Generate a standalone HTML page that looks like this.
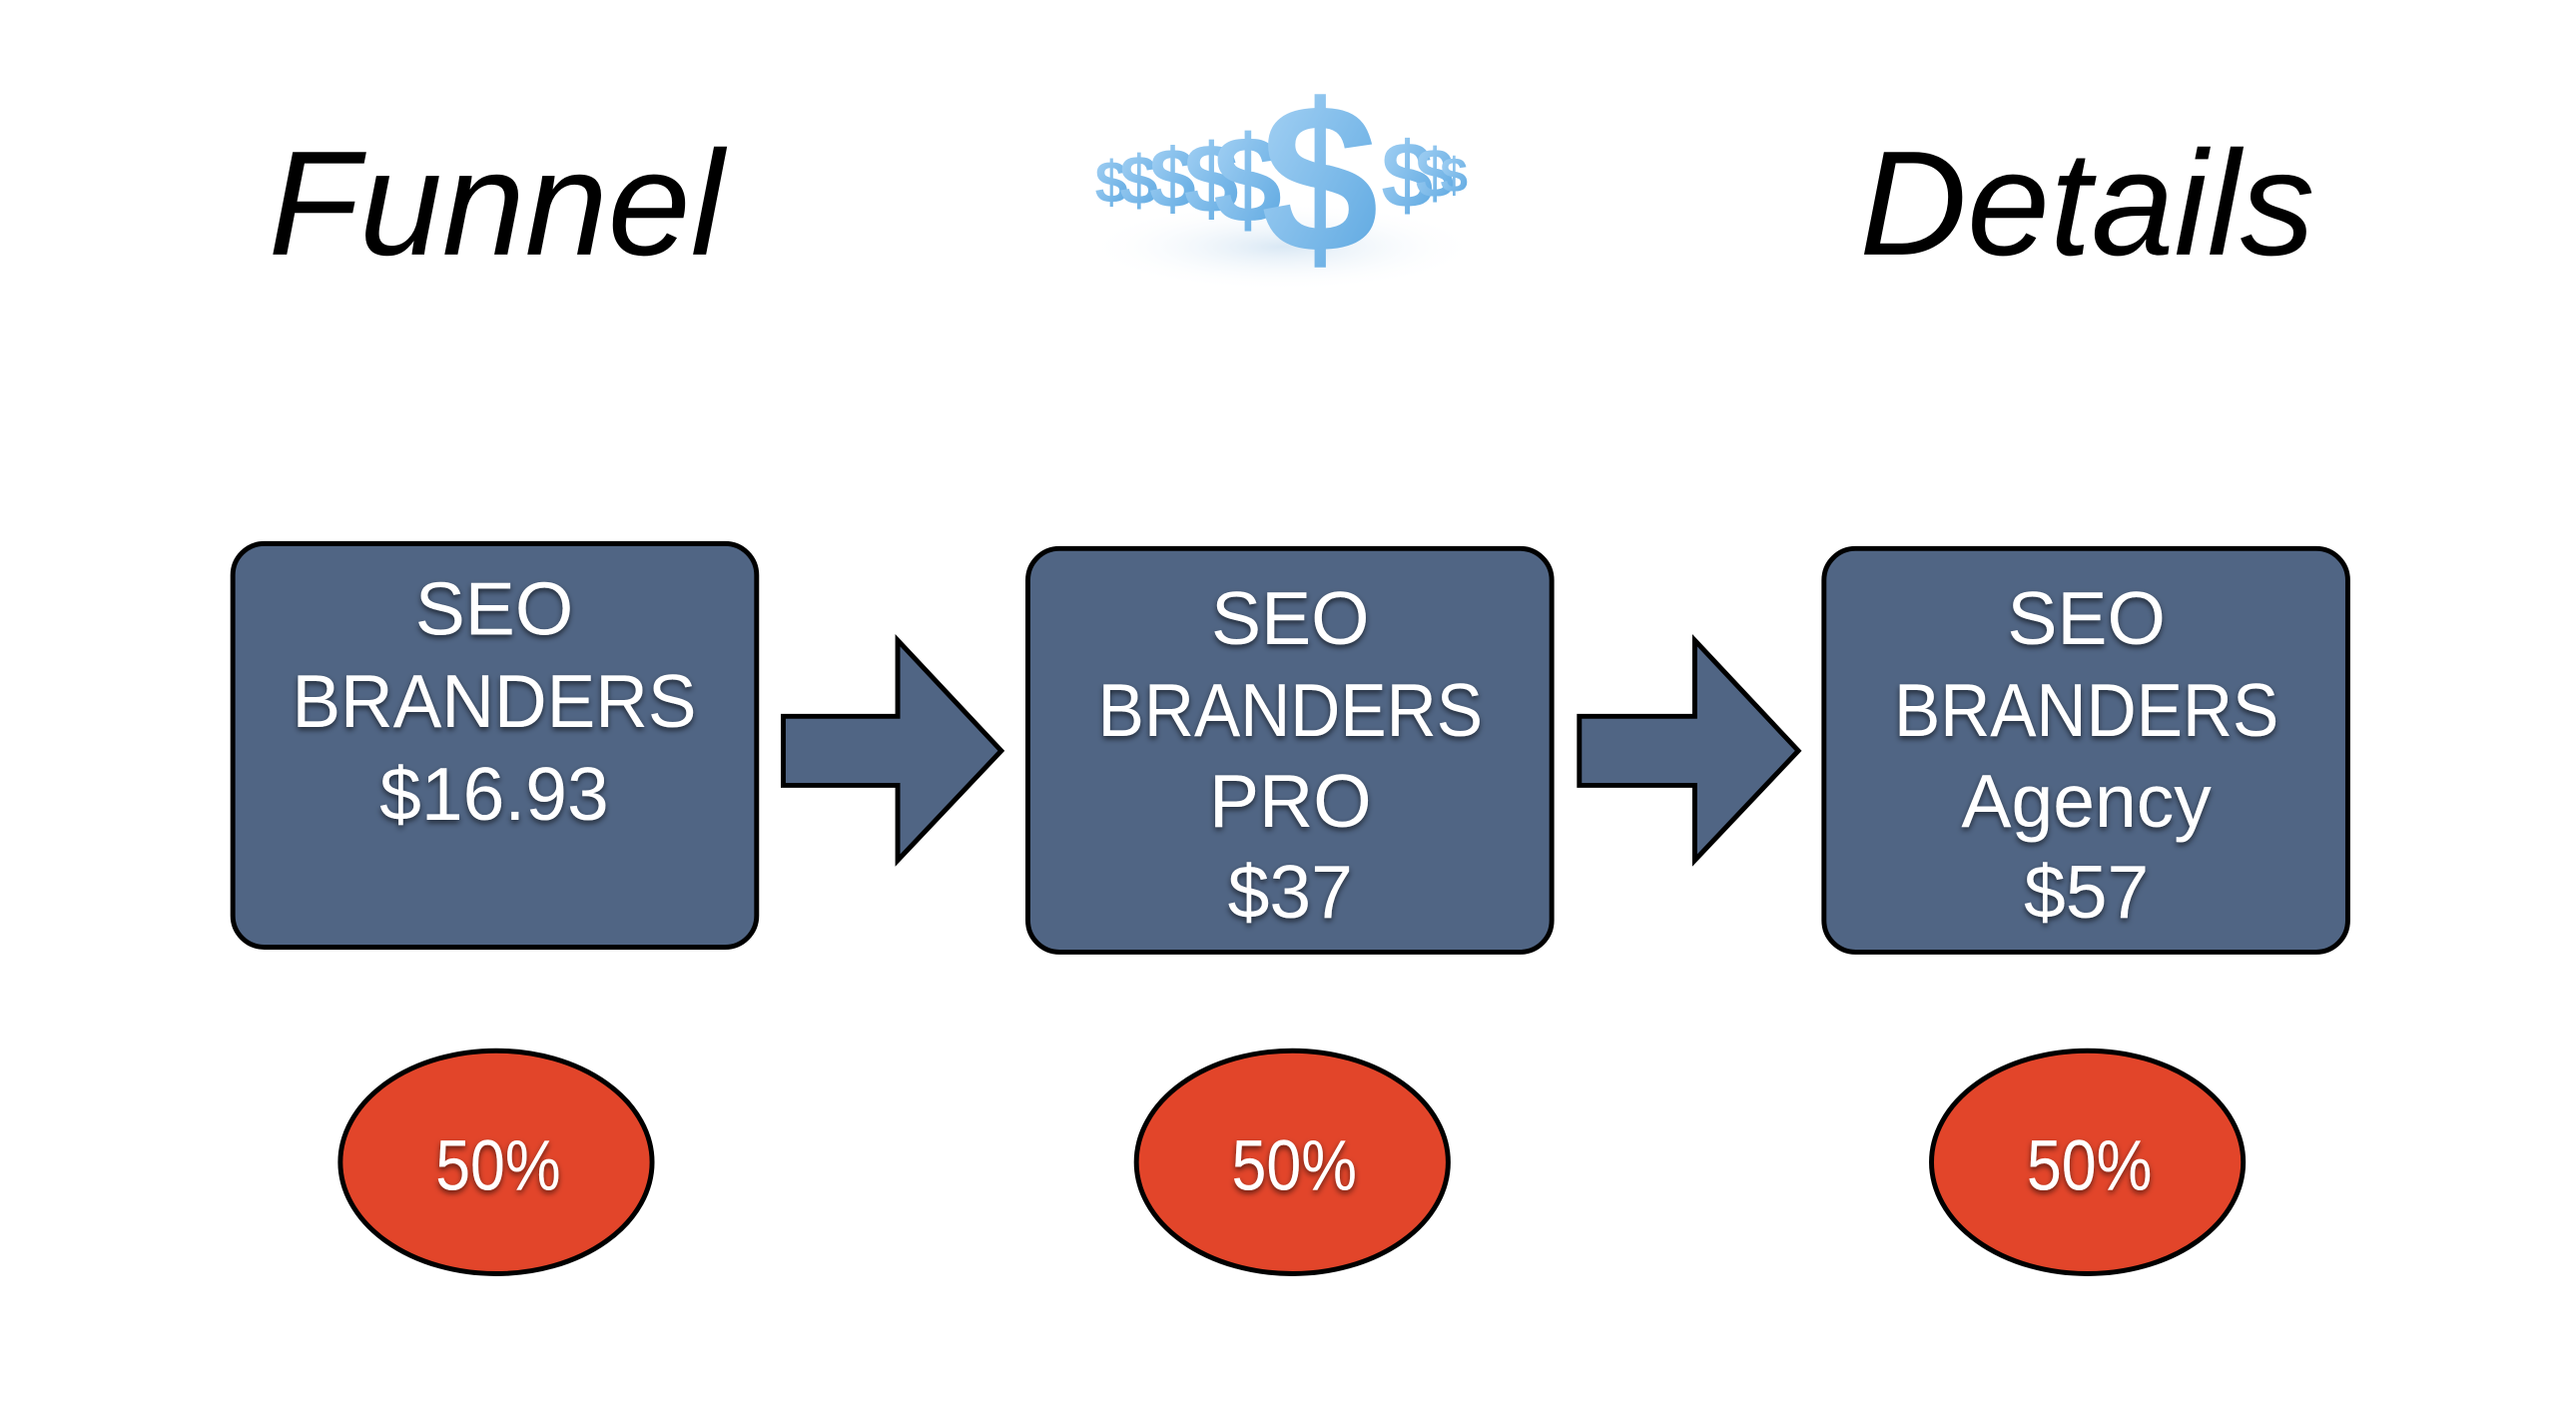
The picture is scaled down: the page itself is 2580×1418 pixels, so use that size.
<!DOCTYPE html>
<html><head><style>
html,body{margin:0;padding:0;background:#fff;}
svg{display:block}
</style></head><body>
<svg width="2580" height="1418" viewBox="0 0 2580 1418" xmlns="http://www.w3.org/2000/svg">
<defs>
<filter id="ts" x="-10%" y="-10%" width="120%" height="130%"><feDropShadow dx="0" dy="3" stdDeviation="3" flood-color="#000" flood-opacity="0.6"/></filter>
<linearGradient id="dg" x1="0" y1="0" x2="1" y2="1"><stop offset="0" stop-color="#a9d4f5"/><stop offset="1" stop-color="#5aa6e0"/></linearGradient>
<radialGradient id="sh" cx="0.5" cy="0.5" r="0.5"><stop offset="0" stop-color="#c9def0" stop-opacity="0.7"/><stop offset="1" stop-color="#fff" stop-opacity="0"/></radialGradient>
</defs>
<g transform="scale(0.988)">
<text x="272" y="258" font-family="Liberation Sans, sans-serif" font-style="italic" font-size="151" fill="#000">Funnel</text>
<text x="1885" y="258" font-family="Liberation Sans, sans-serif" font-style="italic" font-size="151" fill="#000">Details</text>

<ellipse cx="1300" cy="250" rx="200" ry="45" fill="url(#sh)"/>
<g font-family="Liberation Sans, sans-serif" font-weight="bold" fill="url(#dg)">
<text x="1110" y="205" font-size="60">$</text>
<text x="1135" y="207" font-size="70">$</text>
<text x="1165" y="210" font-size="85">$</text>
<text x="1200" y="215" font-size="100">$</text>
<text x="1230" y="225" font-size="125">$</text>
<text x="1400" y="210" font-size="95">$</text>
<text x="1435" y="200" font-size="70">$</text>
<text x="1460" y="195" font-size="50">$</text>
<text x="1278" y="255" font-size="215">$</text>
</g>

<g fill="#506584" stroke="#000" stroke-width="5">
<rect x="236" y="551" width="531" height="409" rx="32"/>
<rect x="1042" y="556" width="531" height="409" rx="32"/>
<rect x="1849" y="556" width="531" height="409" rx="32"/>
<polygon points="794,726 910,726 910,649 1015,761 910,872 910,796 794,796"/>
<polygon points="1601,726 1718,726 1718,649 1823,761 1718,872 1718,796 1601,796"/>
<ellipse cx="503" cy="1178" rx="158" ry="113" fill="#e2452a"/>
<ellipse cx="1310" cy="1178" rx="158" ry="113" fill="#e2452a"/>
<ellipse cx="2116" cy="1178" rx="158" ry="113" fill="#e2452a"/>
</g>

<g font-family="Liberation Sans, sans-serif" font-size="76" fill="#fff" text-anchor="middle" filter="url(#ts)">
<text x="501" y="643">SEO</text>
<text x="501" y="737" textLength="410" lengthAdjust="spacingAndGlyphs">BRANDERS</text>
<text x="501" y="831">$16.93</text>
<text x="1308" y="653">SEO</text>
<text x="1308" y="746" textLength="390" lengthAdjust="spacingAndGlyphs">BRANDERS</text>
<text x="1308" y="838">PRO</text>
<text x="1308" y="930">$37</text>
<text x="2115" y="653">SEO</text>
<text x="2115" y="746" textLength="390" lengthAdjust="spacingAndGlyphs">BRANDERS</text>
<text x="2115" y="838">Agency</text>
<text x="2115" y="930">$57</text>
<g font-size="72">
<text x="505" y="1206" textLength="127" lengthAdjust="spacingAndGlyphs">50%</text>
<text x="1312" y="1206" textLength="127" lengthAdjust="spacingAndGlyphs">50%</text>
<text x="2118" y="1206" textLength="127" lengthAdjust="spacingAndGlyphs">50%</text>
</g>
</g>
</g>
</svg>
</body></html>
